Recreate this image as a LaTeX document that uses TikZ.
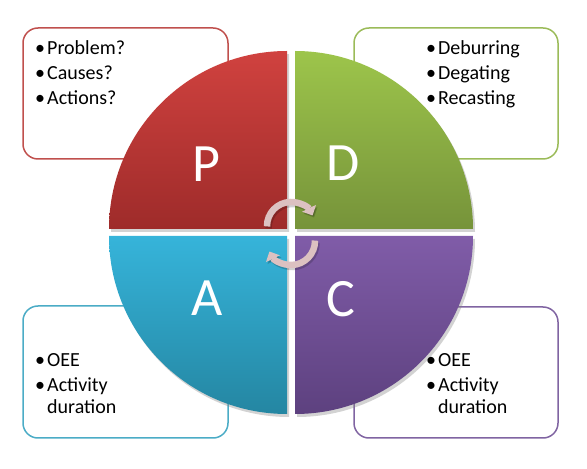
\documentclass[tikz,border=0pt]{standalone}
\usepackage{fontspec}
\setmainfont{Carlito}
\usetikzlibrary{shadows,arrows.meta}
\definecolor{pTop}{HTML}{D0423F}
\definecolor{pBot}{HTML}{9E2B2A}
\definecolor{dTop}{HTML}{9DC54B}
\definecolor{dBot}{HTML}{76933A}
\definecolor{aTop}{HTML}{36B4DA}
\definecolor{aBot}{HTML}{2486A2}
\definecolor{cTop}{HTML}{805CA8}
\definecolor{cBot}{HTML}{5D417F}
\definecolor{pLine}{HTML}{C0504D}
\definecolor{dLine}{HTML}{9BBB59}
\definecolor{aLine}{HTML}{4BACC6}
\definecolor{cLine}{HTML}{8064A2}
\definecolor{arrowCol}{HTML}{DCC1C1}
\newcommand\bul{\makebox[12pt][l]{•}}
\tikzset{
  quad/.style={drop shadow={shadow xshift=2pt,shadow yshift=-3pt,opacity=0.35}},
  notebox/.style={line width=1.5pt,rounded corners=15pt,fill=white},
  txt/.style={anchor=base west,inner sep=0pt,font=\fontsize{20}{24}\selectfont},
  big/.style={anchor=base,inner sep=0pt,text=white,font=\fontsize{54}{60}\selectfont},
  cyc/.style={line width=6.5pt,draw=arrowCol,-{Triangle[width=15pt,length=8pt]}},
  cycshadow/.style={line width=6.5pt,draw=black,opacity=0.18,-{Triangle[width=15pt,length=8pt]}}
}
\begin{document}
\begin{tikzpicture}[x=1pt,y=1pt]
\useasboundingbox (0,0) rectangle (587,469);
% note boxes
\draw[notebox,draw=pLine] (23,310) rectangle (228,441);
\draw[notebox,draw=dLine] (354,310) rectangle (558,441);
\draw[notebox,draw=aLine] (23,31) rectangle (228,163);
\draw[notebox,draw=cLine] (354,31) rectangle (558,162);
% quadrants
\path[quad,top color=pTop,bottom color=pBot] (287,240) -- (109,240) arc (180:90:178) -- cycle;
\path[quad,top color=dTop,bottom color=dBot] (295,240) -- (295,418) arc (90:0:178) -- cycle;
\path[quad,top color=aTop,bottom color=aBot] (287,233) -- (109,233) arc (180:270:178) -- cycle;
\path[quad,top color=cTop,bottom color=cBot] (295,233) -- (473,233) arc (0:-90:178) -- cycle;
% letters
\node[big] (P) at (206,287) {P};
\node[big] (D) at (343,288) {D};
\node[big] (A) at (207,153) {A};
\node[big] (C) at (341,152) {C};
% cycle arrows
\coordinate (ct) at (291,243);
\coordinate (cb) at (291,228);
\draw[cycshadow] ([shift={(181:24)}]ct) ++(1.5,-2) arc (181:26:24);
\draw[cycshadow] ([shift={(1:24)}]cb) ++(1.5,-2) arc (1:-154:24);
\draw[cyc] ([shift={(181:24)}]ct) arc (181:26:24);
\draw[cyc] ([shift={(1:24)}]cb) arc (1:-154:24);
% texts P
\node[txt] (p1) at (35,414) {\bul Problem?};
\node[txt] (p2) at (35,389) {\bul Causes?};
\node[txt] (p3) at (35,364) {\bul Actions?};
% texts D
\node[txt] (d1) at (426,414) {\bul Deburring};
\node[txt] (d2) at (426,389) {\bul Degating};
\node[txt] (d3) at (426,364) {\bul Recasting};
% texts A
\node[txt] (a1) at (35,102) {\bul OEE};
\node[txt] (a2) at (35,77) {\bul Activity};
\node[txt] (a3) at (47,55) {duration};
% texts C
\node[txt] (c1) at (426,102) {\bul OEE};
\node[txt] (c2) at (426,77) {\bul Activity};
\node[txt] (c3) at (438,55) {duration};
\end{tikzpicture}
\end{document}
